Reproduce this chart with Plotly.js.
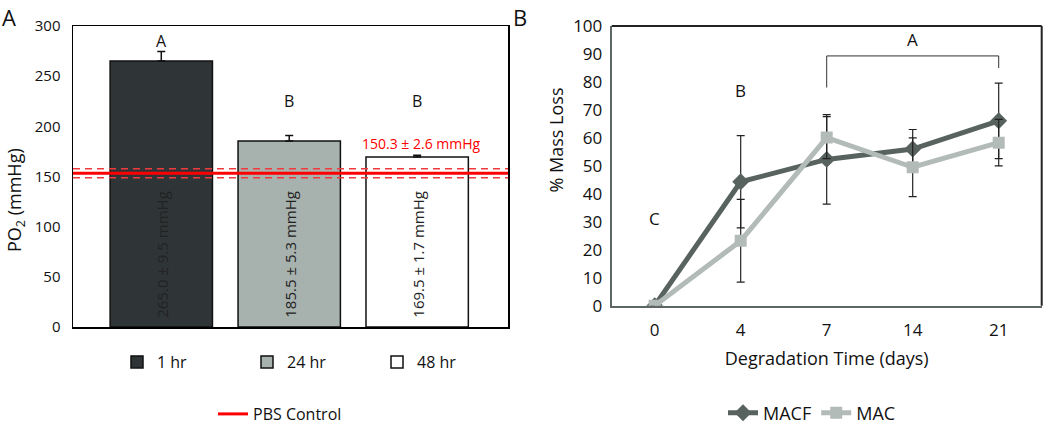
<!DOCTYPE html>
<html><head><meta charset="utf-8">
<script src="https://cdn.plot.ly/plotly-3.0.1.min.js"></script>
<style>html,body{margin:0;padding:0;background:#fff}#chart{width:1050px;height:426px}</style>
</head><body><div id="chart"></div>
<script>
// ---- Panel A data ----
const groups = ['1 hr', '24 hr', '48 hr'];
const po2Mean = [265.0, 185.5, 169.5];
const po2Err = [9.5, 5.3, 1.7];
const barColors = ['#2f3537', '#a7b1ae', '#ffffff'];
const barLabels = ['265.0 ± 9.5 mmHg', '185.5 ± 5.3 mmHg', '169.5 ± 1.7 mmHg'];
const groupLetters = ['A', 'B', 'B'];
const groupLetterY = [285, 225, 225];
const pbsMean = 153.2;
const pbsBand = 4.5;
const pbsLabel = '150.3 ± 2.6 mmHg';
const pbsLabelY = 183;

// ---- Panel B data ----
const days = ['0', '4', '7', '14', '21'];
const macf = [0, 44.3, 52.3, 56.0, 66.1];
const macfErr = [0, 16.5, 16.0, 7.0, 13.5];
const mac = [0, 23.2, 60.1, 49.5, 58.3];
const macErr = [0, 14.8, 7.5, 10.5, 8.3];
const dayLetters = ['C', 'B', 'A'];
const dayLetterAt = ['0', '4', '14'];
const dayLetterY = [31, 77, 95.3];
const bracketFrom = '7', bracketTo = '21';

const W = 1050, H = 426;
const px = v => v / W, py = v => 1 - v / H;
const FONT = 'Open Sans, Noto Sans, sans-serif';
const dayIdx = d => days.indexOf(d);

const traces = [];
groups.forEach((g, i) => {
  traces.push({
    type: 'bar', x: [g], y: [po2Mean[i]], width: 0.8, name: g,
    xaxis: 'x', yaxis: 'y', legend: 'legend',
    marker: {color: barColors[i], line: {color: '#111', width: 1.5}},
    error_y: {type: 'data', symmetric: false, array: [po2Err[i]], arrayminus: [0],
              color: '#111', thickness: 1.5, width: 4}
  });
});
traces.push({
  type: 'scatter', mode: 'lines', x: [0, 1], y: [pbsMean, pbsMean], name: 'PBS Control',
  xaxis: 'x3', yaxis: 'y', legend: 'legend2', line: {color: '#ff0000', width: 3}
});
[pbsMean + pbsBand, pbsMean - pbsBand].forEach(v => {
  traces.push({
    type: 'scatter', mode: 'lines', x: [0, 1], y: [v, v], showlegend: false,
    xaxis: 'x3', yaxis: 'y', line: {color: '#f03a3e', width: 1.5, dash: '7px,5px'}
  });
});
traces.push({
  type: 'scatter', mode: 'lines+markers', x: days, y: macf, name: 'MACF',
  xaxis: 'x2', yaxis: 'y2', legend: 'legend3',
  line: {color: '#58625f', width: 5},
  marker: {symbol: 'diamond', size: 13, color: '#58625f'},
  error_y: {type: 'data', array: macfErr, color: '#222', thickness: 1.2, width: 4}
});
traces.push({
  type: 'scatter', mode: 'lines+markers', x: days, y: mac, name: 'MAC',
  xaxis: 'x2', yaxis: 'y2', legend: 'legend3',
  line: {color: '#b3bbb8', width: 5},
  marker: {symbol: 'square', size: 12, color: '#b3bbb8'},
  error_y: {type: 'data', array: macErr, color: '#222', thickness: 1.2, width: 4}
});

const annotations = [];
groups.forEach((g, i) => {
  annotations.push({xref: 'x', yref: 'y', x: i, y: 0, yshift: 7, text: barLabels[i],
    textangle: -90, showarrow: false, yanchor: 'bottom', xanchor: 'center',
    font: {family: FONT, size: 15, color: '#222'}});
  annotations.push({xref: 'x', yref: 'y', x: i, y: groupLetterY[i], text: groupLetters[i],
    showarrow: false, font: {family: FONT, size: 16, color: '#111'}});
});
annotations.push({xref: 'x', yref: 'y', x: 2, xshift: 4, y: pbsLabelY, text: pbsLabel,
  showarrow: false, font: {family: FONT, size: 14, color: '#ff0000'}});
dayLetters.forEach((t, i) => {
  annotations.push({xref: 'x2', yref: 'y2', x: dayIdx(dayLetterAt[i]), y: dayLetterY[i], text: t,
    showarrow: false, font: {family: FONT, size: 17, color: '#111'}});
});
annotations.push({xref: 'paper', yref: 'paper', x: px(15), y: py(200), text: 'PO<sub>2</sub> (mmHg)',
  textangle: -90, showarrow: false, xanchor: 'center', yanchor: 'middle',
  font: {family: FONT, size: 18, color: '#111'}});
annotations.push({xref: 'paper', yref: 'paper', x: px(555), y: py(140.5), text: '% Mass Loss',
  textangle: -90, showarrow: false, xanchor: 'center', yanchor: 'middle',
  font: {family: FONT, size: 18, color: '#111'}});
annotations.push({xref: 'paper', yref: 'paper', x: 0, y: 1, text: 'A', showarrow: false,
  xanchor: 'left', yanchor: 'top', font: {family: FONT, size: 22, color: '#111'}});
annotations.push({xref: 'paper', yref: 'paper', x: px(511), y: 1, text: 'B', showarrow: false,
  xanchor: 'left', yanchor: 'top', font: {family: FONT, size: 22, color: '#111'}});

const b0 = dayIdx(bracketFrom), b1 = dayIdx(bracketTo);
const shapes = [
  {type: 'line', xref: 'x2 domain', yref: 'y2 domain', x0: 0, x1: 1, y0: 1, y1: 1, line: {color: '#222', width: 2}},
  {type: 'line', xref: 'x2 domain', yref: 'y2 domain', x0: 1, x1: 1, y0: 0, y1: 1, line: {color: '#222', width: 2}},
  {type: 'line', xref: 'x2', yref: 'y2', x0: b0, x1: b0, y0: 78, y1: 89.3, line: {color: '#333', width: 1}},
  {type: 'line', xref: 'x2', yref: 'y2', x0: b0, x1: b1, y0: 89.3, y1: 89.3, line: {color: '#333', width: 1}},
  {type: 'line', xref: 'x2', yref: 'y2', x0: b1, x1: b1, y0: 85, y1: 89.3, line: {color: '#333', width: 1}}
];

const layout = {
  width: W, height: H, margin: {l: 0, r: 0, t: 0, b: 0, autoexpand: false},
  paper_bgcolor: '#fff', plot_bgcolor: '#fff',
  font: {family: FONT, color: '#111'},
  barmode: 'overlay',
  xaxis: {domain: [px(73), px(508)], type: 'category', range: [-0.69, 2.71], anchor: 'y',
    showticklabels: false, ticks: '', showgrid: false, showline: true, mirror: true,
    linecolor: '#000', linewidth: 1.5, fixedrange: true},
  xaxis3: {overlaying: 'x', anchor: 'y', range: [0, 1], visible: false, fixedrange: true},
  yaxis: {domain: [py(327), py(26)], range: [0, 300], dtick: 50, anchor: 'x',
    showgrid: false, zeroline: false, showline: true, mirror: true, linecolor: '#000', linewidth: 1.5,
    ticks: '', ticklabelstandoff: 8, tickfont: {family: FONT, size: 15, color: '#111'}, fixedrange: true},
  xaxis2: {domain: [px(611.7), px(1041.7)], type: 'category', range: [-0.5, 4.5], anchor: 'y2',
    showgrid: false, showline: true, linecolor: '#5d6766', linewidth: 2, ticks: '', ticklabelstandoff: 8,
    tickmode: 'array', tickvals: days, ticktext: days,
    tickfont: {family: FONT, size: 17, color: '#111'},
    title: {text: 'Degradation Time (days)', font: {family: FONT, size: 18, color: '#111'}, standoff: 12},
    fixedrange: true},
  yaxis2: {domain: [py(305.7), py(26)], range: [0, 100], dtick: 10, anchor: 'x2', showgrid: false,
    zeroline: false, showline: true, linecolor: '#5d6766', linewidth: 2, ticks: '', ticklabelstandoff: 4,
    tickfont: {family: FONT, size: 17, color: '#111'}, fixedrange: true},
  legend: {orientation: 'h', x: px(312), xanchor: 'center', y: py(362), yanchor: 'middle',
    font: {family: FONT, size: 16, color: '#111'}, bgcolor: 'rgba(0,0,0,0)',
    entrywidth: 85, entrywidthmode: 'pixels'},
  legend2: {orientation: 'h', x: px(280), xanchor: 'center', y: py(414), yanchor: 'middle',
    font: {family: FONT, size: 16, color: '#111'}, bgcolor: 'rgba(0,0,0,0)'},
  legend3: {orientation: 'h', x: px(812), xanchor: 'center', y: py(413), yanchor: 'middle',
    font: {family: FONT, size: 18, color: '#111'}, bgcolor: 'rgba(0,0,0,0)'},
  annotations: annotations,
  shapes: shapes
};

Plotly.newPlot('chart', traces, layout, {staticPlot: true, displayModeBar: false});
</script>
</body></html>
